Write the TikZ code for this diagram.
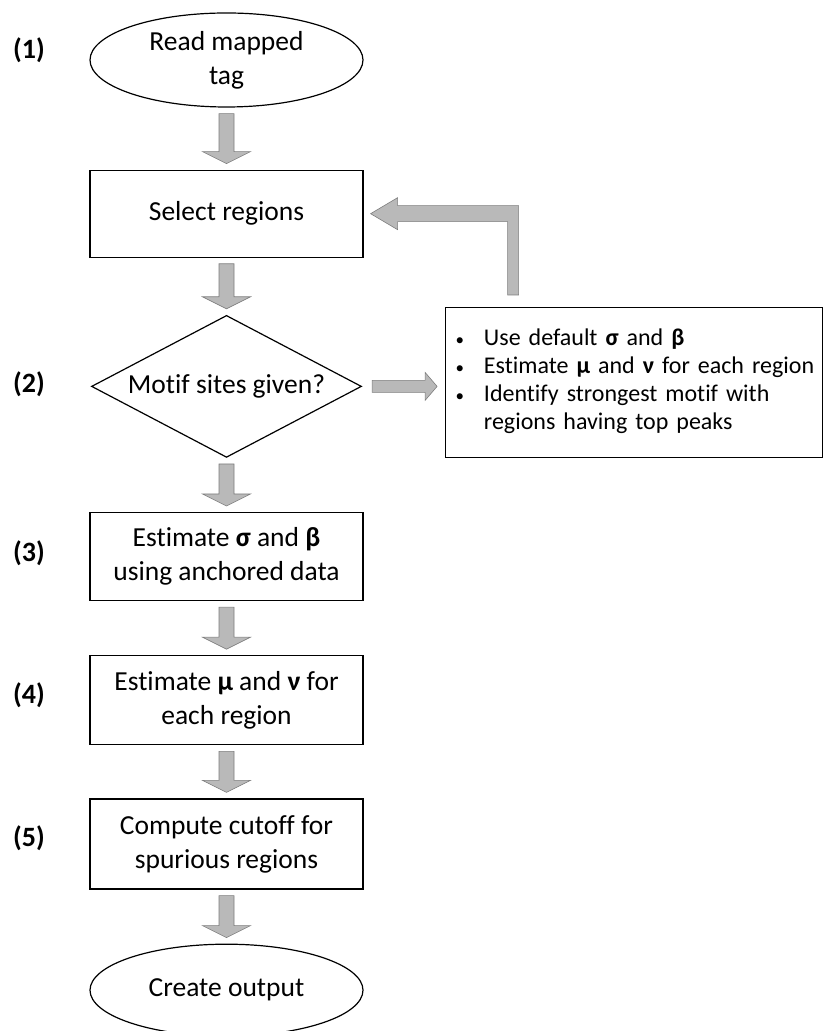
\documentclass[tikz,border=0pt]{standalone}
\usepackage{fontspec}
\setmainfont{Carlito}[Ligatures=NoCommon]
\usetikzlibrary{positioning, shapes.geometric, calc}
\definecolor{ArrowFill}{RGB}{185,185,185}
\definecolor{ArrowEdge}{RGB}{125,125,125}
\tikzset{
  flowbox/.style={draw, line width=1.2pt, rectangle, minimum width=273pt, inner sep=0pt, align=center, font=\fontsize{27.5}{34}\selectfont},
  flowend/.style={draw, line width=1.2pt, ellipse, minimum width=273pt, inner sep=0pt, align=center, font=\fontsize{27.5}{34}\selectfont},
  flowtest/.style={draw, line width=1.2pt, diamond, aspect=1.9, minimum width=270pt, minimum height=142pt, inner sep=0pt, font=\fontsize{27.5}{34}\selectfont},
  infobox/.style={draw, line width=0.8pt, rectangle, minimum width=377pt, minimum height=150pt, inner xsep=10pt, text width=357pt, align=left, font=\fontsize{24}{28}\selectfont},
  steplabel/.style={font=\bfseries\fontsize{28}{34}\selectfont},
  blockarrow/.style={fill=ArrowFill, draw=ArrowEdge, line width=0.6pt}
}
\newcommand{\flowdown}[2]{%
  \draw[blockarrow] let \p1=($(#1.south)+(0,-6)$), \p2=($(#2.north)+(0,6)$) in
    (\x1-7.5pt,\y1) -- (\x1-7.5pt,\y2+12pt) -- (\x1-24pt,\y2+12pt) -- (\x1,\y2)
    -- (\x1+24pt,\y2+12pt) -- (\x1+7.5pt,\y2+12pt) -- (\x1+7.5pt,\y1) -- cycle;}
\newcommand{\flowright}[2]{%
  \draw[blockarrow] let \p1=($(#1.east)+(10,0)$), \p2=($(#2.west)+(-8,0)$) in
    (\x1,\y1-6pt) -- (\x2-12pt,\y1-6pt) -- (\x2-12pt,\y1-14pt) -- (\x2,\y1)
    -- (\x2-12pt,\y1+14pt) -- (\x2-12pt,\y1+6pt) -- (\x1,\y1+6pt) -- cycle;}
\newcommand{\infodot}{{\fontsize{17}{17}\selectfont\textbullet}}
\begin{document}
\begin{tikzpicture}[x=1pt, y=1pt, node distance=54pt]
  \useasboundingbox (0,0) rectangle (824,1031);
  \node[flowend, minimum height=94pt] (read) at (226.5,971) {Read mapped\\tag};
  \node[flowbox, minimum height=87pt, below=62pt of read] (select) {Select regions};
  \node[flowtest, below=57pt of select] (test) {Motif sites given?};
  \node[flowbox, minimum height=88pt, below=of test] (sigma) {Estimate \textbf{σ} and \textbf{β}\\using anchored data};
  \node[flowbox, minimum height=89pt, below=of sigma] (mu) {Estimate \textbf{μ} and \textbf{ν} for\\each region};
  \node[flowbox, minimum height=90pt, below=53pt of mu] (cutoff) {Compute cutoff for\\spurious regions};
  \node[flowend, minimum height=92pt, below=of cutoff] (output) {Create output};
  \node[infobox, right=83pt of test, yshift=4pt] (info) {%
    \begin{tabular}{@{}l@{\hspace{20pt}}l@{}}
      \infodot & Use default \textbf{σ} and \textbf{β}\\
      \infodot & Estimate \textbf{μ} and \textbf{ν} for each region\\
      \infodot & Identify strongest motif with\\
               & regions having top peaks
    \end{tabular}};
  \node[steplabel] (lab1) at (29,981) {(1)};
  \node[steplabel] (lab2) at (29,647) {(2)};
  \node[steplabel] (lab3) at (29,478) {(3)};
  \node[steplabel] (lab4) at (29,336) {(4)};
  \node[steplabel] (lab5) at (29,193) {(5)};
  \coordinate (loop) at ($(info.north west)+(68,12)$);
  \flowdown{read}{select}
  \flowdown{select}{test}
  \flowdown{test}{sigma}
  \flowdown{sigma}{mu}
  \flowdown{mu}{cutoff}
  \flowdown{cutoff}{output}
  \flowright{test}{info}
  \draw[blockarrow] let \p1=(loop), \p2=($(select.east)+(7,0)$) in
    (\x1-5.5pt,\y1) -- (\x1-5.5pt,\y2-8pt) -- (\x2+27pt,\y2-8pt) -- (\x2+27pt,\y2-16pt) -- (\x2,\y2)
    -- (\x2+27pt,\y2+16pt) -- (\x2+27pt,\y2+8pt) -- (\x1+5.5pt,\y2+8pt) -- (\x1+5.5pt,\y1) -- cycle;
\end{tikzpicture}
\end{document}
